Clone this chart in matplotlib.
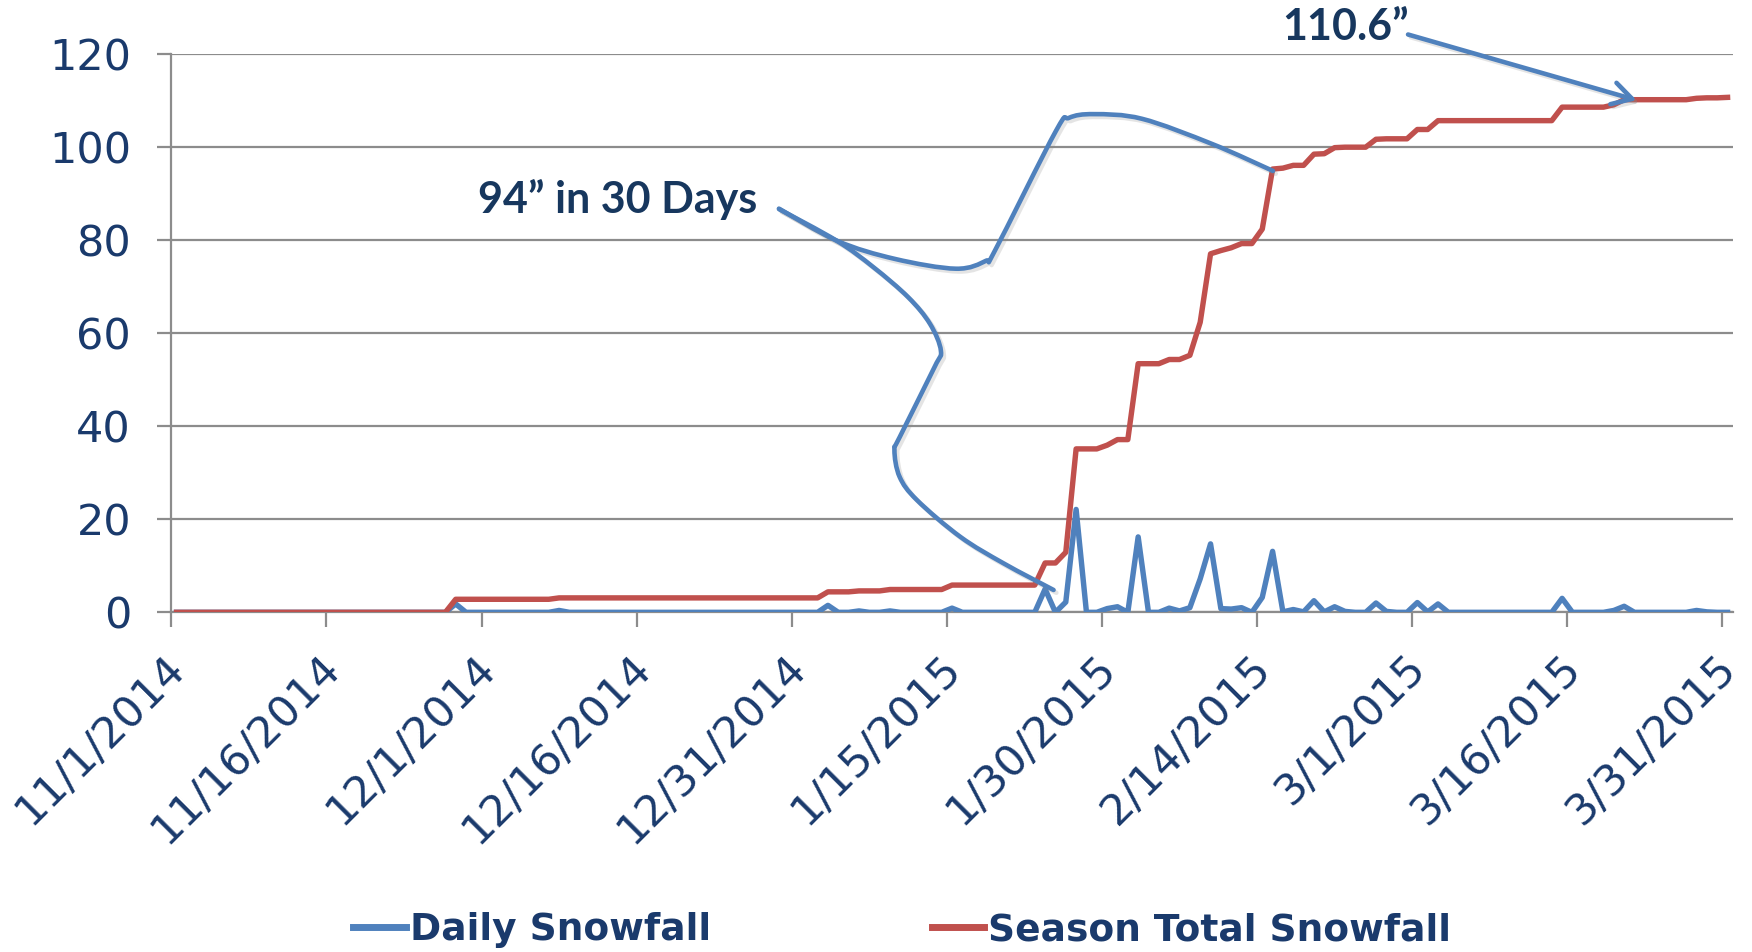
import numpy as np
import matplotlib
matplotlib.use("Agg")
import matplotlib.pyplot as plt
from matplotlib.path import Path
from matplotlib.patches import PathPatch
from matplotlib.lines import Line2D
import matplotlib.patheffects as pe
import matplotlib.transforms as mtransforms

# ---------------- data ----------------
tick_labels = ["11/1/2014", "11/16/2014", "12/1/2014", "12/16/2014", "12/31/2014",
               "1/15/2015", "1/30/2015", "2/14/2015", "3/1/2015", "3/16/2015", "3/31/2015"]

# daily snowfall, 11/1/2014 .. 3/31/2015 (151 days)
daily_snowfall = (
    [0.0] * 27 +                                   # 11/1 - 11/27
    [1.8] + [0.0] * 9 +                            # 11/28 - 12/7
    [0.4] + [0.0] * 25 +                           # 12/8 - 1/2
    [1.5, 0.0, 0.0, 0.3, 0.0, 0.0, 0.3, 0.0, 0.0, 0.0, 0.0, 0.0,   # 1/3 - 1/14
     0.9, 0.0, 0.0, 0.0, 0.0, 0.0, 0.0, 0.0,                       # 1/15 - 1/22
     0.0, 5.0, 0.0, 2.2, 22.1, 0.0, 0.0, 0.8, 1.2,                 # 1/23 - 1/31
     0.0, 16.2, 0.0, 0.0, 0.9, 0.3, 1.0, 7.2, 14.7,                # 2/1 - 2/9
     0.8, 0.7, 1.0, 0.0, 3.2, 13.1, 0.1, 0.6, 0.1,                 # 2/10 - 2/18
     2.5, 0.1, 1.2, 0.2, 0.0, 0.0, 2.0, 0.2, 0.0, 0.0,             # 2/19 - 2/28
     2.1, 0.1, 1.8] +                                              # 3/1 - 3/3
    [0.0] * 11 +                                                   # 3/4 - 3/14
    [3.0, 0.0, 0.0, 0.0, 0.0, 0.4, 1.3,                            # 3/15 - 3/21
     0.0, 0.0, 0.0, 0.0, 0.0, 0.0, 0.4, 0.1, 0.0, 0.0]             # 3/22 - 3/31
)

season_total = (
    [0.0] * 27 +
    [2.8] * 10 +
    [3.1] * 26 +
    [4.4, 4.4, 4.4, 4.6, 4.6, 4.6, 4.9, 4.9, 4.9, 4.9, 4.9, 4.9,
     5.85, 5.85, 5.85, 5.85, 5.85, 5.85, 5.85, 5.85,
     5.85, 10.6, 10.6, 12.9, 35.1, 35.1, 35.1, 35.9, 37.1,
     37.1, 53.4, 53.4, 53.4, 54.3, 54.3, 55.2, 62.3, 77.0,
     77.7, 78.3, 79.2, 79.2, 82.3, 95.2, 95.4, 96.0, 96.0,
     98.4, 98.5, 99.8, 99.9, 99.9, 99.9, 101.6, 101.7, 101.7, 101.7,
     103.7, 103.7, 105.6] +
    [105.6] * 11 +
    [108.5, 108.5, 108.5, 108.5, 108.5, 109.0, 110.1,
     110.1, 110.1, 110.1, 110.1, 110.1, 110.1, 110.4, 110.5, 110.5, 110.6]
)

series_names = ["Daily Snowfall", "Season Total Snowfall"]

# callout shapes (data coordinates: day slot, inches)
callout_top = [(58.76, 86.7), (64.37, 79.8), (69.98, 75.9), (75.88, 73.8), (78.78, 75.5),
               (79.65, 77.7), (85.55, 103.4), (86.81, 106.2), (89.23, 107.0),
               (93.87, 106.0), (100.64, 100.6), (106.54, 94.8)]
callout_bottom = [(58.77, 86.6), (64.35, 79.8), (67.91, 74.1), (71.27, 67.65),
                  (73.37, 61.95), (74.42, 56.2), (73.79, 52.6), (70.43, 37.6),
                  (69.93, 34.8), (70.43, 29.1), (72.11, 24.1), (76.31, 16.2),
                  (80.5, 10.5), (85.32, 4.8)]

# ---------------- style ----------------
BLUE = "#4F81BD"
RED = "#C0504D"
NAVY = "#1A3A6C"
GRID = "#8C8C8C"

fig = plt.figure(figsize=(17.52, 9.52), dpi=100)
ax = fig.add_axes([0.0978, 0.3568, 0.8912, 0.5869])

n = len(daily_snowfall)
x = np.arange(n) + 0.5

ax.plot(x, daily_snowfall, color=BLUE, lw=3.9, solid_joinstyle="round", zorder=3)
ax.plot(x, season_total, color=RED, lw=3.9, solid_joinstyle="round", zorder=3)

ax.set_xlim(0, n)
ax.set_ylim(0, 120)
ax.set_yticks(np.arange(0, 121, 20))
ax.set_xticks(np.arange(0, n, 15))
ax.set_xticklabels(tick_labels, rotation=45, ha="right", va="center",
                   rotation_mode="anchor")

ax.yaxis.grid(True, color=GRID, lw=1.6)
ax.set_axisbelow(True)
for s in ["top", "right"]:
    ax.spines[s].set_visible(False)
for s in ["left", "bottom"]:
    ax.spines[s].set_color(GRID)
    ax.spines[s].set_linewidth(1.6)

ax.tick_params(axis="y", direction="out", length=10, width=1.6, color=GRID,
               labelcolor=NAVY, labelsize=31, pad=19)
ax.tick_params(axis="x", direction="out", length=10.5, width=1.6, color=GRID,
               labelcolor=NAVY, labelsize=31, pad=22)
shift = mtransforms.ScaledTranslation(7 / 100, -4 / 100, fig.dpi_scale_trans)
for lab in ax.get_xticklabels():
    lab.set_family("DejaVu Sans")
    lab.set_transform(lab.get_transform() + shift)
for lab in ax.get_yticklabels():
    lab.set_family("DejaVu Sans")


def smooth_path(pts):
    P = np.array(pts, dtype=float)
    verts = [P[0]]
    codes = [Path.MOVETO]
    for i in range(len(P) - 1):
        p0 = P[i - 1] if i > 0 else P[i]
        p1 = P[i]
        p2 = P[i + 1]
        p3 = P[i + 2] if i + 2 < len(P) else P[i + 1]
        verts += [p1 + (p2 - p0) / 6.0, p2 - (p3 - p1) / 6.0, p2]
        codes += [Path.CURVE4] * 3
    return Path(verts, codes)


shadow = [pe.SimpleLineShadow(offset=(2.0, -2.0), shadow_color="#888888", alpha=0.22),
          pe.Normal()]
for pts in (callout_top, callout_bottom):
    patch = PathPatch(smooth_path(pts), fill=False, edgecolor=BLUE, lw=3.3,
                      capstyle="round", joinstyle="round", zorder=5,
                      transform=ax.transData, clip_on=False)
    patch.set_path_effects(shadow)
    ax.add_patch(patch)

ax.text(29.65, 88.6, "94\u201d in 30 Days", family="Lato", fontweight="bold",
        fontsize=31, color="#17375E", ha="left", va="center", zorder=6)
ax.text(107.4, 125.7, "110.6\u201d", family="Lato", fontweight="bold",
        fontsize=31, color="#17375E", ha="left", va="center", zorder=6, clip_on=False)

arr = ax.annotate("", xy=(141.7, 110.0), xytext=(119.6, 124.1),
                  arrowprops=dict(arrowstyle="->,head_length=0.7,head_width=0.4",
                                  color=BLUE, lw=3.3, shrinkA=0, shrinkB=0,
                                  mutation_scale=20),
                  annotation_clip=False, zorder=6)
arr.arrow_patch.set_path_effects(shadow)

handles = [Line2D([], [], color=BLUE, lw=5), Line2D([], [], color=RED, lw=5)]
leg = fig.legend(handles, series_names, loc="center", bbox_to_anchor=(0.515, 0.023),
                 ncol=2, frameon=False, handlelength=1.4, handletextpad=0.1,
                 columnspacing=5.9,
                 prop={"family": "DejaVu Sans", "weight": "bold", "size": 27})
for t in leg.get_texts():
    t.set_color(NAVY)

fig.savefig("out.png", dpi=100)
